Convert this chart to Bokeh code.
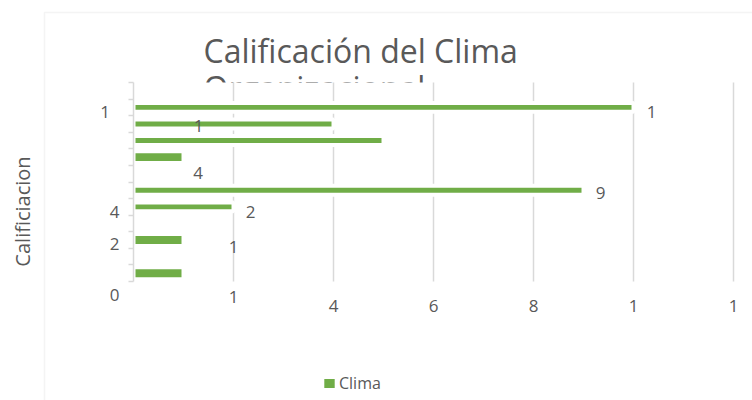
from math import pi
from bokeh.plotting import figure
from bokeh.models import (Range1d, FixedTicker, Label, Legend, LegendItem, LinearAxis,
                          Grid, PolyAnnotation, BoxAnnotation, ColumnDataSource)
from bokeh.embed import file_html
from bokeh.resources import INLINE
from bokeh.core.properties import value

FONT = "Open Sans"
TEXT = "#595959"
GREEN = "#70AD47"
GRID = "#D9D9D9"

# ---------------- data ----------------
title_lines = ["Calificación del Clima", "Organizacional"]
y_title = "Calificiacion"
series_name = "Clima"

rows = [1, 2, 3, 4, 5, 6, 7, 8, 9, 10, 11, 12]          # category slots, bottom -> top
values = [1, 0, 1, 0, 2, 9, 0, 1, 5, 4, 10, 0]          # bar lengths
bar_thickness = [0.72, 0.54, 0.72, 0.54, 0.54, 0.54,
                 0.54, 0.72, 0.54, 0.54, 0.54, 0.54]    # style only

x_ticks = [2, 4, 6, 8, 10, 12]
x_label_ticks = [4, 6, 8, 10, 12]
x_tick_labels = ["4", "6", "8", "1", "1"]               # labels as shown (truncated)
y_ticks = list(range(0, 13))

# stray / truncated value labels as shown in the picture
y_label_text = ["1", "4", "2", "0"]
y_label_x = [-0.57, -0.38, -0.38, -0.38]
y_label_y = [10.25, 4.22, 2.26, -0.84]

data_label_text = ["1", "1", "4", "9", "2", "1", "1"]
data_label_x = [10.36, 1.30, 1.29, 9.34, 2.34, 2.00, 2.00]
data_label_y = [10.22, 9.38, 6.54, 5.31, 4.22, 2.08, -0.93]

# ---------------- figure: frame spans the whole canvas ----------------
p = figure(width=752, height=400, x_range=Range1d(-2.66, 12.38),
           y_range=Range1d(-7.176, 16.945), x_axis_type=None, y_axis_type=None,
           toolbar_location=None, output_backend="svg", min_border=0,
           outline_line_color=None)

# chart-area border (only its left and top edges are inside the picture)
p.add_layout(PolyAnnotation(xs=[-1.78, -1.78, 100, 100], ys=[-100, 16.221, 16.221, -100],
                            fill_alpha=0, line_color=GRID, line_width=1.5))

# two-line title; the second line is hidden below the plot-area top edge
p.text(x=[1.40, 1.40], y=[13.93, 11.70], text=title_lines, text_font=value(FONT),
       text_font_size="32px", text_color=TEXT, text_baseline="alphabetic",
       text_align="left", level="image")
p.add_layout(BoxAnnotation(left=1.2, right=6.2, bottom=10.2, top=12, level="underlay",
                           fill_color="white", fill_alpha=1, line_color=None))

# vertical gridlines limited to the plot area
if "cross_bounds" in Grid.properties():
    p.add_layout(Grid(dimension=0, ticker=FixedTicker(ticks=x_ticks), cross_bounds=(0, 12),
                      grid_line_color=GRID, grid_line_width=1.5))
else:
    p.add_layout(LinearAxis(fixed_location=12, ticker=FixedTicker(ticks=[], minor_ticks=x_ticks),
                            axis_line_color=None, major_tick_line_color=None,
                            minor_tick_line_color=GRID, minor_tick_line_width=1.5,
                            minor_tick_in=199, minor_tick_out=0), "above")

# category axis: line + tick marks only
p.add_layout(LinearAxis(fixed_location=0, bounds=(0, 12),
                        ticker=FixedTicker(ticks=[], minor_ticks=y_ticks),
                        axis_line_color=GRID, axis_line_width=1.5,
                        major_tick_line_color=None, minor_tick_line_color=GRID,
                        minor_tick_line_width=1.5, minor_tick_out=5, minor_tick_in=0), "left")

# value axis: labels only
p.add_layout(LinearAxis(fixed_location=0, ticker=FixedTicker(ticks=x_label_ticks),
                        major_label_overrides={t: s for t, s in zip(x_label_ticks, x_tick_labels)},
                        axis_line_color=None, major_tick_line_color=None,
                        minor_tick_line_color=None, major_label_text_font=FONT,
                        major_label_text_font_size="17px", major_label_text_color=TEXT,
                        major_label_standoff=13), "below")

keep = [i for i, v in enumerate(values) if v > 0]
src = ColumnDataSource(dict(
    y=[rows[i] - 0.5 for i in keep],
    right=[values[i] for i in keep],
    h=[bar_thickness[i] for i in keep],
))
bars = p.hbar(y="y", left=0, right="right", height="h", source=src,
              fill_color=GREEN, line_color="white", line_width=4)

for t, x, y in zip(y_label_text + data_label_text,
                   y_label_x + data_label_x, y_label_y + data_label_y):
    p.add_layout(Label(x=x, y=y, text=t, text_font=FONT, text_font_size="17px",
                       text_color=TEXT, text_align="center", text_baseline="middle"))

p.add_layout(Label(x=-2.22, y=4.221, text=y_title, angle=pi / 2, text_font=FONT,
                   text_font_size="20px", text_color=TEXT, text_align="center",
                   text_baseline="middle"))

legend = Legend(items=[LegendItem(label=series_name, renderers=[bars])],
                location=(320, 6), orientation="horizontal", padding=0, spacing=0,
                margin=0, glyph_width=18, glyph_height=16, label_standoff=1,
                label_height=13, label_text_font=FONT, label_text_font_size="16px",
                label_text_color=TEXT, border_line_color=None, background_fill_alpha=0)
p.add_layout(legend)

open("out.html", "w").write(file_html(p, INLINE))
